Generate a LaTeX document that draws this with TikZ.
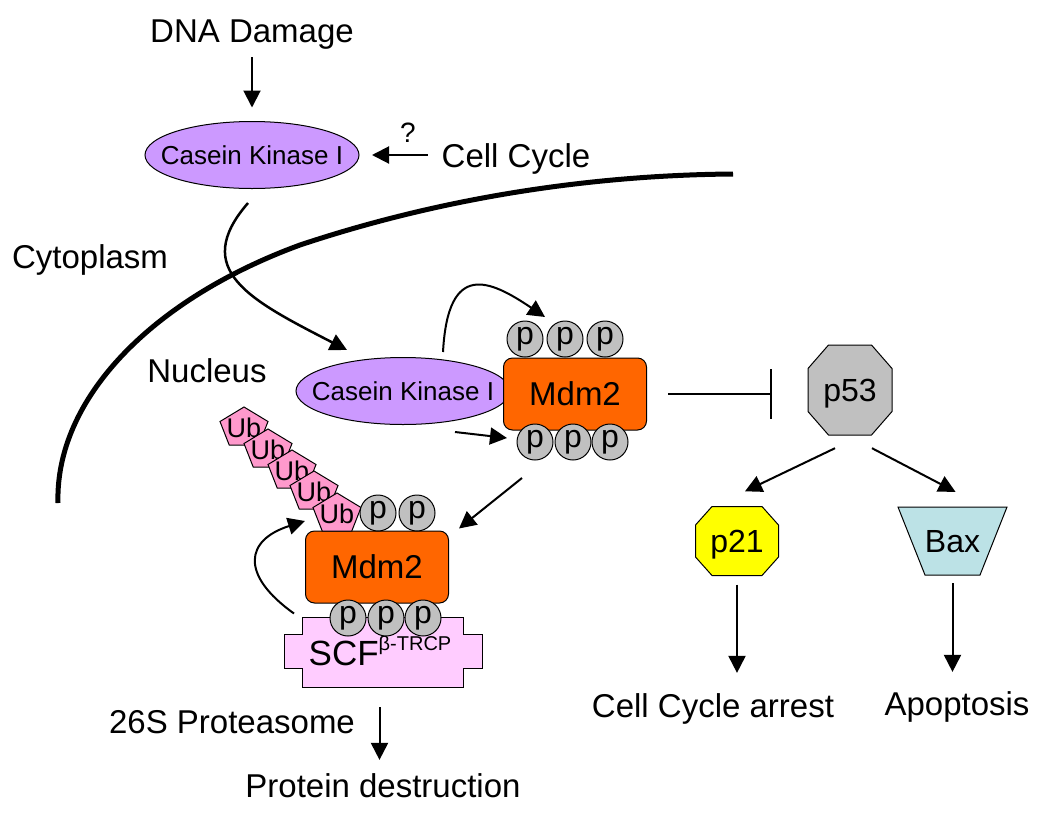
\documentclass[tikz,border=0pt]{standalone}
\usepackage{fontspec}
\setmainfont{Liberation Sans}
\usetikzlibrary{arrows.meta,shapes.geometric,calc}
\definecolor{lav}{HTML}{CC99FF}
\definecolor{mdmorange}{HTML}{FF6600}
\definecolor{pgray}{HTML}{C0C0C0}
\definecolor{ubpink}{HTML}{FF99CC}
\definecolor{scfpink}{HTML}{FFCCFF}
\definecolor{pyellow}{HTML}{FFFF00}
\definecolor{baxblue}{RGB}{188,226,230}
\newcommand\myfs[1]{\fontsize{#1}{#1}\selectfont}
\newcommand\ubpent[2]{\filldraw[shp,fill=ubpink,shift={(#1,#2)}] (0,-21) -- (24,-6.5) -- (14.8,17) -- (-14.8,17) -- (-24,-6.5) -- cycle;}
\begin{document}
\begin{tikzpicture}[x=1pt,y=-1pt,
  lbl/.style={inner sep=0pt, font=\myfs{33}},
  tip/.style={-{Triangle[length=17pt,width=17pt]}},
  arr/.style={line width=2pt, tip},
  shp/.style={draw=black, line width=1pt},
  ck/.style={shp, ellipse, fill=lav, minimum width=214pt, minimum height=67pt, inner sep=0pt},
  cklbl/.style={font=\myfs{26}, inner sep=0pt},
  mdm/.style={shp, rectangle, rounded corners=9pt, fill=mdmorange, minimum width=143pt, minimum height=72pt, inner sep=0pt, font=\myfs{33}},
  pc/.style={shp, circle, fill=pgray, minimum size=36pt, inner sep=0pt, font=\myfs{32}},
  ubt/.style={inner sep=0pt, font=\myfs{27}},
  boxn/.style={inner sep=0pt, font=\myfs{32}, text height=23pt, text depth=0pt}
]
\useasboundingbox (0,0) rectangle (1050,812);

% cell membrane
\draw[line width=5pt] (58,503) .. controls (55,400) and (150,300) .. (300,245)
  .. controls (450,195) and (600,175) .. (733,174);

% top part
\node[lbl, anchor=base] (dna) at (252,42) {DNA Damage};
\node[ck, label={[cklbl, name=ckTopT]center:Casein Kinase I}] (ckTop) at (252,155) {};
\node[lbl, anchor=base] (cc) at (516,167) {Cell Cycle};
\node[inner sep=0pt, font=\myfs{28}, anchor=base] (q) at (408,142) {?};
\node[lbl, anchor=base] (cyto) at (90,268) {Cytoplasm};
\node[lbl, anchor=base] (nuc) at (207,382) {Nucleus};

% nuclear complex
\node[ck, label={[cklbl, name=ckLowT]center:Casein Kinase I}] (ckLow) at (403,391) {};
\node[mdm] (mdmA) at (575,394) {Mdm2};
\node[pc] (pA1) at (525,339) {p};
\node[pc] (pA2) at (565,339) {p};
\node[pc] (pA3) at (605,339) {p};
\node[pc] (pB1) at (535,442) {p};
\node[pc] (pB2) at (573,442) {p};
\node[pc] (pB3) at (610,442) {p};

% ubiquitinated Mdm2
\node[mdm] (mdmB) at (377,567) {Mdm2};
\ubpent{244}{428}\node[ubt] (ub1) at (244,428) {Ub};
\ubpent{268}{450}\node[ubt] (ub2) at (268,450) {Ub};
\ubpent{292}{471}\node[ubt] (ub3) at (292,471) {Ub};
\ubpent{314}{492}\node[ubt] (ub4) at (314,492) {Ub};
\ubpent{337}{514}\node[ubt] (ub5) at (337,514) {Ub};
\node[pc] (pC1) at (378,513) {p};
\node[pc] (pC2) at (417,513) {p};

% SCF
\filldraw[shp, fill=scfpink] (302,617) -- (463,617) -- (463,634) -- (482,634) -- (482,668)
  -- (463,668) -- (463,687) -- (302,687) -- (302,668) -- (284,668) -- (284,634) -- (302,634) -- cycle;
\node[inner sep=0pt, minimum width=161pt, minimum height=70pt] (scfbox) at (382.5,652) {};
\node[inner sep=0pt, anchor=base] (scf) at (380,665) {{\myfs{35}SCF}\raisebox{15pt}{\myfs{20}β-TRCP}};
\node[pc] (pD1) at (348,618) {p};
\node[pc] (pD2) at (386,618) {p};
\node[pc] (pD3) at (423,618) {p};

\node[lbl, anchor=base] (prots) at (232,733) {26S Proteasome};
\node[lbl, anchor=base] (prot) at (383,797) {Protein destruction};

% p53 branch
\filldraw[shp, fill=pgray, shift={(850,390)}] (-21.5,-45) -- (21.5,-45) -- (42,-21.5) -- (42,21.5)
  -- (21.5,45) -- (-21.5,45) -- (-42,21.5) -- (-42,-21.5) -- cycle;
\node[boxn, minimum width=84pt, minimum height=90pt] (p53) at (850,390) {p53};
\filldraw[shp, fill=pyellow, shift={(737,541)}] (-25,-34.5) -- (25,-34.5) -- (41.5,-16) -- (41.5,16)
  -- (25,34.5) -- (-25,34.5) -- (-41.5,16) -- (-41.5,-16) -- cycle;
\node[boxn, minimum width=83pt, minimum height=69pt] (p21) at (737,541) {p21};
\filldraw[shp, fill=baxblue] (898,507) -- (1007,507) -- (980,575) -- (925,575) -- cycle;
\node[boxn, minimum width=109pt, minimum height=68pt] (bax) at (952.5,541) {Bax};
\node[lbl, anchor=base] (arrest) at (713,717) {Cell Cycle arrest};
\node[lbl, anchor=base] (apop) at (957,715) {Apoptosis};

% connectors
\draw[arr, shorten <=8pt, shorten >=13.5pt] (dna) -- (ckTop);
\draw[arr, shorten <=14pt, shorten >=12.5pt] (cc.west |- ckTop.east) -- (ckTop.east);
\draw[line width=2.5pt, tip] ([shift={(-4,14)}]ckTop.south)
  .. controls (190,270) and (250,300) .. ([shift={(-56,-41)}]ckLow.center);
\draw[arr] ([shift={(40,-39)}]ckLow.center) .. controls (448,260) and (490,280) .. ([shift={(20,-22)}]pA1.center);
\draw[arr] ([shift={(52,41)}]ckLow.center) -- ([shift={(-28,-4)}]pB1.center);
\draw[arr] ([shift={(-13,36)}]pB1.center) -- ([shift={(10,-2)}]mdmB.north east);
\draw[arr] ([shift={(-11,10)}]mdmB.south west) .. controls (240,575) and (245,540) .. ([shift={(-32,7)}]ub5.center);
\draw[line width=2pt, -{Bar[width=50pt]}, shorten <=21pt, shorten >=36pt] (mdmA.east) -- (mdmA.east -| p53.west);
\draw[arr] ([shift={(-15,13)}]p53.south) -- ([shift={(8,-15)}]p21.north);
\draw[arr] ([shift={(22,13)}]p53.south) -- ([shift={(3,-15)}]bax.north);
\draw[arr] ([shift={(0,9)}]p21.south) -- ($(p21.south |- arrest.north)+(0,-20)$);
\draw[arr] ([shift={(0,8)}]bax.south) -- ($(bax.south |- apop.north)+(0,-19)$);
\draw[arr] ([shift={(-3,20)}]scfbox.south) -- ($(scfbox.south |- prot.north)+(-3,-13)$);
\end{tikzpicture}
\end{document}
